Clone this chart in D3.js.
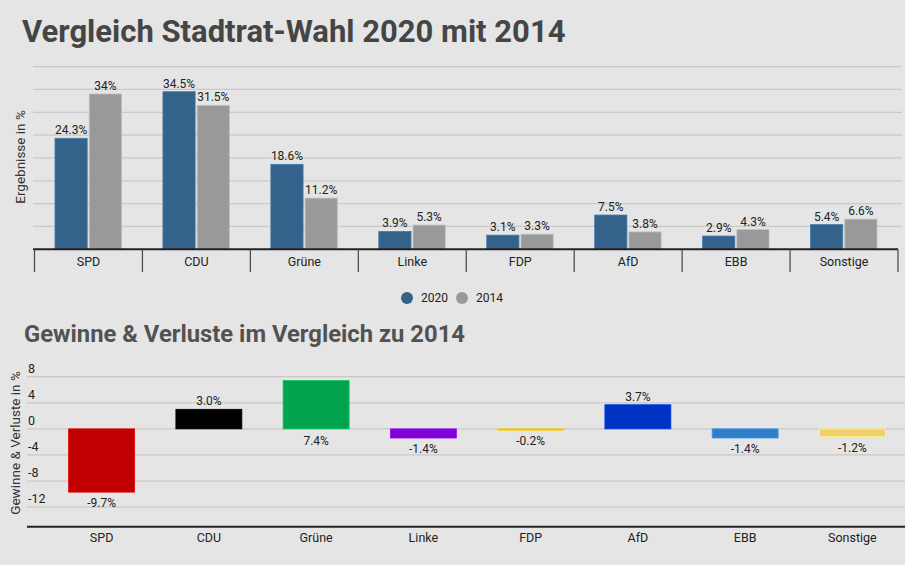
<!DOCTYPE html>
<html><head><meta charset="utf-8">
<script src="https://cdn.jsdelivr.net/npm/d3@7"></script>
<style>
html,body{margin:0;padding:0;background:#e5e5e5;}
svg{display:block;font-family:Roboto,sans-serif;}
</style></head><body>
<svg id="c" width="905" height="565"></svg>
<script>
const parties = ["SPD","CDU","Grüne","Linke","FDP","AfD","EBB","Sonstige"];
const results2020 = [24.3,34.5,18.6,3.9,3.1,7.5,2.9,5.4];
const results2014 = [34,31.5,11.2,5.3,3.3,3.8,4.3,6.6];
const changes = [-9.7,3.0,7.4,-1.4,-0.2,3.7,-1.4,-1.2];
const partyColors = ["#c00000","#000000","#00a44f","#8000d6","#f0b000","#0033c4","#2f7ec8","#f2cf6e"];
const seriesNames = ["2020","2014"];
const seriesColors = ["#34628b","#999999"];
const topTicks = [5,10,15,20,25,30,35,40];
const bottomTicks = [8,4,0,-4,-8,-12];

const svg = d3.select("#c");
const fmt1 = v => (Number.isInteger(v) ? v : v.toFixed(1)) + "%";

// Titles
svg.append("text").attr("x",22).attr("y",42).attr("font-size",31).attr("font-weight",700)
  .attr("fill","#454545").text("Vergleich Stadtrat-Wahl 2020 mit 2014");
svg.append("text").attr("x",24).attr("y",342).attr("font-size",23.8).attr("font-weight",700)
  .attr("fill","#525252").text("Gewinne & Verluste im Vergleich zu 2014");

// ---------- Top chart ----------
const x1 = d3.scaleBand().domain(parties).range([34.5,898]);
const y1 = d3.scaleLinear().domain([0,40]).range([249.3,66.6]);
const inner = d3.scaleBand().domain(seriesNames).range([20.5, x1.bandwidth()-21]).paddingInner(0.06);

const g1 = svg.append("g");
g1.selectAll("line.grid").data(topTicks).join("line")
  .attr("x1",33).attr("x2",902).attr("y1",d=>y1(d)).attr("y2",d=>y1(d))
  .attr("stroke","#c9c9c9").attr("stroke-width",1.2);

const data1 = parties.map((p,i)=>({p, vals:[results2020[i],results2014[i]]}));
const grp = g1.selectAll("g.grp").data(data1).join("g").attr("transform",d=>`translate(${x1(d.p)},0)`);
grp.selectAll("rect").data(d=>d.vals.map((v,j)=>({v,s:seriesNames[j],j}))).join("rect")
  .attr("x",d=>inner(d.s)).attr("width",inner.bandwidth())
  .attr("y",d=>y1(d.v)).attr("height",d=>y1(0)-y1(d.v))
  .attr("fill",d=>seriesColors[d.j])
  .attr("stroke",d=>d3.color(seriesColors[d.j]).brighter(0.6)).attr("stroke-width",0.8);
grp.selectAll("text").data(d=>d.vals.map((v,j)=>({v,s:seriesNames[j],j}))).join("text")
  .attr("x",d=>inner(d.s)+inner.bandwidth()/2).attr("y",d=>y1(d.v)-4)
  .attr("text-anchor","middle").attr("font-size",12).attr("fill","#222").text(d=>fmt1(d.v));

// axis
g1.append("line").attr("x1",33).attr("x2",898).attr("y1",y1(0)).attr("y2",y1(0)).attr("stroke","#222").attr("stroke-width",2);
const bounds = parties.map(p=>x1(p)).concat([x1.range()[1]]);
g1.selectAll("line.tick").data(bounds).join("line")
  .attr("x1",d=>d).attr("x2",d=>d).attr("y1",y1(0)).attr("y2",272)
  .attr("stroke","#444").attr("stroke-width",1.2);
g1.selectAll("text.cat").data(parties).join("text").attr("class","cat")
  .attr("x",d=>x1(d)+x1.bandwidth()/2).attr("y",265.5).attr("text-anchor","middle")
  .attr("font-size",12.5).attr("fill","#222").text(d=>d);

svg.append("text").attr("transform","translate(25,157) rotate(-90)").attr("text-anchor","middle")
  .attr("font-size",13.5).attr("fill","#333").text("Ergebnisse in %");

// legend
const leg = svg.append("g");
const legX = [407,462];
seriesNames.forEach((s,i)=>{
  leg.append("circle").attr("cx",legX[i]).attr("cy",298).attr("r",6).attr("fill",seriesColors[i]);
  leg.append("text").attr("x",legX[i]+14).attr("y",302).attr("font-size",12).attr("fill","#222").text(s);
});

// ---------- Bottom chart ----------
const x2 = d3.scaleBand().domain(parties).range([48,906]).paddingInner(0.385).paddingOuter(0.1925);
const y2 = d3.scaleLinear().domain([-15,8]).range([526.7,376.7]);
const g2 = svg.append("g");
g2.selectAll("line.grid").data(bottomTicks).join("line")
  .attr("x1",27).attr("x2",905).attr("y1",d=>y2(d)).attr("y2",d=>y2(d))
  .attr("stroke","#c9c9c9").attr("stroke-width",1.2);
g2.selectAll("text.tl").data(bottomTicks).join("text")
  .attr("x",28).attr("y",d=>y2(d)-4).attr("font-size",12.5).attr("fill","#222").text(d=>d);

const data2 = parties.map((p,i)=>({p,v:changes[i],c:partyColors[i]}));
g2.selectAll("rect").data(data2).join("rect")
  .attr("x",d=>x2(d.p)).attr("width",x2.bandwidth())
  .attr("y",d=>y2(Math.max(0,d.v))).attr("height",d=>Math.abs(y2(d.v)-y2(0)))
  .attr("fill",d=>d.c).attr("stroke",d=>d3.color(d.c).brighter(0.5)).attr("stroke-width",0.8);
g2.selectAll("text.val").data(data2).join("text")
  .attr("x",d=>x2(d.p)+x2.bandwidth()/2)
  .attr("y",d=>{
    if (d.v>=0 && y2(d.v)-16 < y2.range()[1]) return y2(0)+16;
    return d.v>=0 ? y2(d.v)-4 : y2(d.v)+15;
  })
  .attr("text-anchor","middle").attr("font-size",12).attr("fill","#222").text(d=>d.v.toFixed(1)+"%");

g2.append("line").attr("x1",27).attr("x2",905).attr("y1",526.7).attr("y2",526.7).attr("stroke","#222").attr("stroke-width",2);
g2.selectAll("text.cat").data(parties).join("text")
  .attr("x",d=>x2(d)+x2.bandwidth()/2).attr("y",542).attr("text-anchor","middle")
  .attr("font-size",12.5).attr("fill","#222").text(d=>d);

svg.append("text").attr("transform","translate(20,443) rotate(-90)").attr("text-anchor","middle")
  .attr("font-size",13.5).attr("fill","#333").text("Gewinne & Verluste in %");
</script>
</body></html>
